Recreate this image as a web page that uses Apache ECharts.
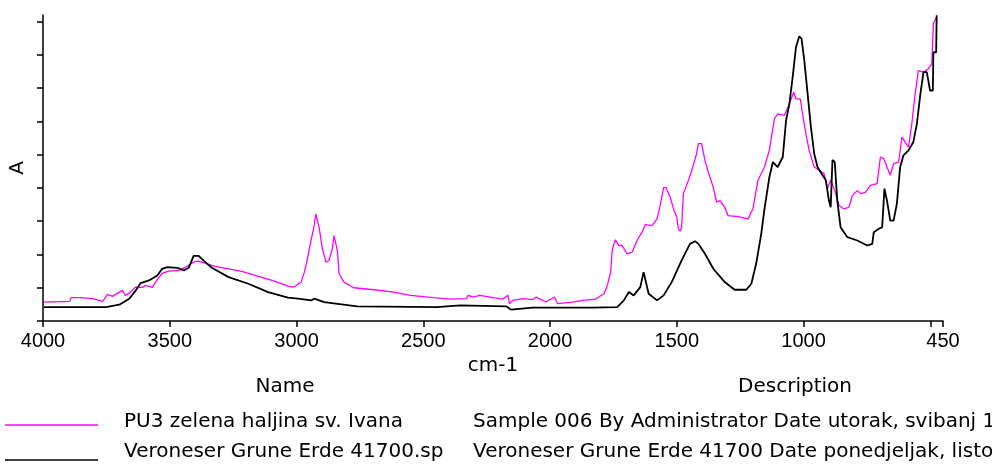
<!DOCTYPE html>
<html>
<head>
<meta charset="utf-8">
<title>IR spectrum</title>
<script src="https://cdn.jsdelivr.net/npm/echarts@6/dist/echarts.min.js"></script>
<style>
  html, body { margin: 0; padding: 0; background: #fff; }
  #chart { width: 992px; height: 466px; }
</style>
</head>
<body>
<div id="chart"></div>
<script>
// PU3 zelena haljina sv. Ivana (magenta)
const pu3Wavenumber = [3996, 3894, 3889, 3856, 3804, 3765, 3745, 3726, 3687, 3675, 3655, 3636, 3608, 3596, 3569, 3549, 3530, 3504, 3464, 3440,
  3406, 3386, 3361, 3322, 3268, 3216, 3151, 3087, 3034, 3009, 2982, 2969, 2957, 2943, 2930, 2924, 2917, 2911, 2898, 2884,
  2872, 2859, 2852, 2845, 2839, 2832, 2813, 2774, 2695, 2617, 2551, 2460, 2395, 2330, 2323, 2303, 2277, 2225, 2186, 2166,
  2160, 2147, 2108, 2068, 2055, 2016, 1983, 1970, 1912, 1872, 1820, 1787, 1774, 1761, 1755, 1748, 1742, 1729, 1716, 1696,
  1676, 1657, 1637, 1624, 1598, 1578, 1566, 1552, 1543, 1526, 1513, 1500, 1494, 1487, 1481, 1474, 1454, 1441, 1422, 1415,
  1402, 1389, 1376, 1356, 1343, 1330, 1324, 1311, 1298, 1258, 1219, 1200, 1180, 1154, 1135, 1115, 1102, 1076, 1056, 1039,
  1030, 1013, 1004, 991, 978, 958, 939, 919, 906, 893, 877, 860, 841, 821, 808, 788, 775, 756, 736, 710,
  697, 684, 671, 658, 645, 625, 612, 599, 586, 573, 560, 547, 527, 508, 494, 488, 475];
const pu3Absorbance = [0.057, 0.059, 0.070, 0.070, 0.067, 0.059, 0.080, 0.074, 0.092, 0.077, 0.086, 0.102, 0.101, 0.107, 0.101, 0.125, 0.143, 0.150, 0.152, 0.161,
  0.177, 0.180, 0.174, 0.164, 0.157, 0.149, 0.134, 0.120, 0.105, 0.102, 0.117, 0.147, 0.187, 0.242, 0.287, 0.322, 0.322, 0.282, 0.217, 0.177,
  0.182, 0.217, 0.257, 0.252, 0.212, 0.142, 0.117, 0.100, 0.094, 0.087, 0.077, 0.070, 0.066, 0.067, 0.077, 0.072, 0.077, 0.070, 0.066, 0.077,
  0.052, 0.062, 0.067, 0.064, 0.072, 0.057, 0.072, 0.052, 0.057, 0.062, 0.066, 0.082, 0.107, 0.147, 0.212, 0.232, 0.244, 0.227, 0.227, 0.202,
  0.207, 0.242, 0.267, 0.290, 0.287, 0.307, 0.347, 0.401, 0.402, 0.372, 0.337, 0.312, 0.277, 0.270, 0.282, 0.383, 0.423, 0.453, 0.503, 0.533,
  0.533, 0.483, 0.448, 0.402, 0.357, 0.362, 0.368, 0.342, 0.317, 0.314, 0.307, 0.337, 0.423, 0.463, 0.513, 0.608, 0.623, 0.618, 0.653, 0.688,
  0.668, 0.668, 0.623, 0.563, 0.513, 0.463, 0.453, 0.443, 0.398, 0.423, 0.392, 0.347, 0.337, 0.342, 0.377, 0.392, 0.383, 0.387, 0.408, 0.413,
  0.493, 0.488, 0.463, 0.438, 0.473, 0.478, 0.553, 0.538, 0.523, 0.593, 0.683, 0.753, 0.748, 0.758, 0.774, 0.894, 0.914];

// Veroneser Grune Erde 41700.sp (black)
const erdeWavenumber = [3996, 3752, 3699, 3660, 3634, 3615, 3582, 3549, 3530, 3510, 3471, 3445, 3425, 3406, 3386, 3360, 3334, 3268, 3190, 3112,
  3034, 2994, 2942, 2930, 2891, 2761, 2447, 2355, 2173, 2153, 2068, 1833, 1735, 1709, 1689, 1670, 1644, 1631, 1624, 1611,
  1578, 1552, 1520, 1481, 1448, 1428, 1415, 1389, 1356, 1311, 1272, 1226, 1206, 1187, 1167, 1154, 1135, 1121, 1102, 1082,
  1069, 1056, 1043, 1030, 1017, 1008, 997, 984, 971, 958, 945, 925, 912, 900, 893, 886, 877, 867, 854, 827,
  788, 749, 729, 723, 704, 690, 681, 671, 658, 645, 632, 619, 606, 586, 567, 553, 540, 527, 514, 501,
  490, 488, 477, 475];
const erdeAbsorbance = [0.042, 0.042, 0.049, 0.067, 0.092, 0.114, 0.122, 0.137, 0.157, 0.162, 0.160, 0.152, 0.160, 0.196, 0.196, 0.177, 0.160, 0.132, 0.112, 0.087,
  0.070, 0.067, 0.062, 0.067, 0.057, 0.044, 0.042, 0.047, 0.044, 0.034, 0.040, 0.040, 0.042, 0.062, 0.087, 0.077, 0.102, 0.147, 0.142, 0.082,
  0.062, 0.077, 0.117, 0.182, 0.232, 0.240, 0.232, 0.202, 0.157, 0.117, 0.094, 0.094, 0.112, 0.172, 0.262, 0.338, 0.432, 0.478, 0.463, 0.493,
  0.603, 0.653, 0.733, 0.823, 0.856, 0.849, 0.783, 0.683, 0.583, 0.503, 0.463, 0.438, 0.423, 0.362, 0.342, 0.484, 0.478, 0.362, 0.282, 0.252,
  0.242, 0.227, 0.232, 0.267, 0.277, 0.282, 0.398, 0.362, 0.302, 0.302, 0.352, 0.463, 0.498, 0.513, 0.538, 0.593, 0.678, 0.748, 0.748, 0.693,
  0.693, 0.808, 0.808, 0.919];

const seriesNames = ['PU3 zelena haljina sv. Ivana', 'Veroneser Grune Erde 41700.sp'];
const seriesDescs = ['Sample 006 By Administrator Date utorak, svibanj 1', 'Veroneser Grune Erde 41700 Date ponedjeljak, listo'];
const seriesColors = ['#ff00ff', '#000000'];
const seriesWidths = [1.3, 1.8];

const xTickValues = [4000, 3500, 3000, 2500, 2000, 1500, 1000, 500, 450];
const xLabelValues = [4000, 3500, 3000, 2500, 2000, 1500, 1000, 450];
const yTickValues = [0, 0.1, 0.2, 0.3, 0.4, 0.5, 0.6, 0.7, 0.8, 0.9];

const FONT = 'Liberation Sans';
const TEXT_FONT = '20px "DejaVu Sans"';

const zip = (xs, ys) => xs.map((x, i) => [x, ys[i]]);
const seriesData = [zip(pu3Wavenumber, pu3Absorbance), zip(erdeWavenumber, erdeAbsorbance)];

const chart = echarts.init(document.getElementById('chart'));

// legend table drawn under the plot
const legendGraphics = [
  { type: 'text', x: 285, y: 387, style: { text: 'Name', font: TEXT_FONT, fill: '#000', align: 'center', verticalAlign: 'middle' } },
  { type: 'text', x: 795, y: 387, style: { text: 'Description', font: TEXT_FONT, fill: '#000', align: 'center', verticalAlign: 'middle' } }
];
const lineY = [425, 460];
const textY = [422, 452];
seriesNames.forEach((name, i) => {
  legendGraphics.push({
    type: 'line',
    shape: { x1: 5, y1: lineY[i], x2: 98, y2: lineY[i] },
    style: { stroke: seriesColors[i], lineWidth: 1.5 }
  });
  legendGraphics.push({
    type: 'text', x: 124, y: textY[i],
    style: { text: name, font: TEXT_FONT, fill: '#000', verticalAlign: 'middle' }
  });
  legendGraphics.push({
    type: 'text', x: 473, y: textY[i],
    style: { text: seriesDescs[i], font: TEXT_FONT, fill: '#000', verticalAlign: 'middle' }
  });
});

const option = {
  animation: false,
  backgroundColor: '#fff',
  grid: { left: 37, right: 49, top: 15, bottom: 145 },
  xAxis: {
    type: 'value',
    inverse: true,
    min: 450,
    max: 4000,
    name: 'cm-1',
    nameLocation: 'middle',
    nameGap: 30,
    nameTextStyle: { fontFamily: 'DejaVu Sans', fontSize: 20, color: '#000', verticalAlign: 'top' },
    axisLine: { show: true, onZero: false, lineStyle: { color: '#000', width: 1.5 } },
    axisTick: { show: true, length: 6, customValues: xTickValues, lineStyle: { color: '#000', width: 1.5 } },
    axisLabel: {
      customValues: xLabelValues,
      formatter: (v) => String(v),
      fontFamily: FONT, fontSize: 20, color: '#000', margin: 10
    },
    splitLine: { show: false }
  },
  yAxis: {
    type: 'value',
    min: 0,
    max: 0.92,
    name: 'A',
    nameLocation: 'middle',
    nameGap: 15,
    nameTextStyle: { fontFamily: 'DejaVu Sans', fontSize: 20, color: '#000' },
    axisLine: { show: true, onZero: false, lineStyle: { color: '#000', width: 1.5 } },
    axisTick: { show: true, length: 6, customValues: yTickValues, lineStyle: { color: '#000', width: 1.5 } },
    axisLabel: { show: false },
    splitLine: { show: false }
  },
  series: seriesNames.map((name, i) => ({
    name: name,
    type: 'line',
    showSymbol: false,
    data: seriesData[i],
    lineStyle: { color: seriesColors[i], width: seriesWidths[i] },
    itemStyle: { color: seriesColors[i] }
  })),
  graphic: legendGraphics
};

chart.setOption(option);
</script>
</body>
</html>
